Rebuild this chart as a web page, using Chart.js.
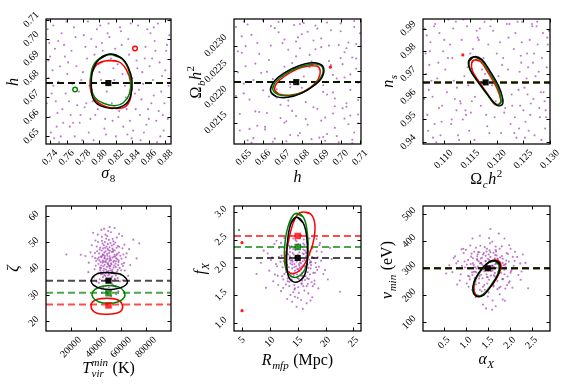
<!DOCTYPE html>
<html><head><meta charset="utf-8">
<script src="https://cdn.jsdelivr.net/npm/chart.js@4"></script>
<style>
html,body{margin:0;padding:0;background:#fff}
#wrap{position:relative;width:567px;height:385px;overflow:hidden;background:#fff}
canvas{position:absolute;left:0;top:0}
</style></head><body>
<div id="wrap">
<canvas id="c1" width="567" height="385"></canvas>
<canvas id="c2" width="567" height="385"></canvas>
<canvas id="c3" width="567" height="385"></canvas>
<canvas id="c4" width="567" height="385"></canvas>
<canvas id="c5" width="567" height="385"></canvas>
<canvas id="c6" width="567" height="385"></canvas>
</div>
<script>
// ---------------- DATA ----------------
// axis ranges
const p1XRange=[0.7351,0.8869], p1YRange=[0.6461,0.7103];
const p2XRange=[0.6450,0.7105], p2YRange=[0.021086,0.023518];
const p3XRange=[0.1061,0.13002], p3YRange=[0.9392,0.9942];
const p4XRange=[0,100000], p4YRange=[16.4,63.75];
const p5XRange=[3.56,26.36], p5YRange=[0.852,3.105];
const p6XRange=[0.02,2.92], p6YRange=[68.6,529.9];
// tick values
const p1XTicks=[0.74,0.76,0.78,0.80,0.82,0.84,0.86,0.88], p1YTicks=[0.65,0.66,0.67,0.68,0.69,0.70,0.71];
const p2XTicks=[0.65,0.66,0.67,0.68,0.69,0.70,0.71], p2YTicks=[0.0215,0.0220,0.0225,0.0230];
const p3XTicks=[0.110,0.115,0.120,0.125,0.130], p3YTicks=[0.94,0.95,0.96,0.97,0.98,0.99];
const p4XTicks=[20000,40000,60000,80000], p4YTicks=[20,30,40,50,60];
const p5XTicks=[5,10,15,20,25], p5YTicks=[1.0,1.5,2.0,2.5,3.0];
const p6XTicks=[0.5,1.0,1.5,2.0,2.5], p6YTicks=[100,200,300,400,500];

// samples (sigma8, h)
const p1Samples=[[0.741,0.652],[0.803,0.698],[0.866,0.671],[0.772,0.686],[0.829,0.655],[0.754,0.703],[0.881,0.694],[0.795,0.661],[0.847,0.707],[0.763,0.668],
[0.818,0.679],[0.738,0.689],[0.874,0.650],[0.786,0.709],[0.852,0.683],[0.749,0.662],[0.836,0.692],[0.779,0.648],[0.859,0.664],[0.812,0.701],
[0.744,0.676],[0.867,0.699],[0.791,0.674],[0.825,0.706],[0.758,0.691],[0.883,0.659],[0.806,0.654],[0.768,0.657],[0.843,0.672],[0.799,0.687],
[0.876,0.681],[0.751,0.647],[0.833,0.664],[0.783,0.696],[0.862,0.703],[0.739,0.698],[0.815,0.667],[0.857,0.656],[0.775,0.673],[0.845,0.689],
[0.761,0.682],[0.808,0.651],[0.871,0.708],[0.747,0.668],[0.827,0.697],[0.789,0.659],[0.853,0.677],[0.737,0.705],[0.879,0.667],[0.797,0.705],
[0.766,0.694],[0.839,0.649],[0.782,0.665],[0.822,0.687],[0.756,0.657],[0.864,0.690],[0.802,0.679],[0.743,0.684],[0.849,0.661],[0.885,0.702],
[0.771,0.701],[0.831,0.676],[0.753,0.650],[0.869,0.658],[0.794,0.692],[0.816,0.658],[0.746,0.695],[0.856,0.696],[0.778,0.679],[0.841,0.653],
[0.873,0.688],[0.759,0.672],[0.811,0.708],[0.787,0.652],[0.851,0.669],[0.740,0.660],[0.824,0.663],[0.865,0.679],[0.769,0.706],[0.835,0.700],
[0.792,0.668],[0.878,0.653],[0.750,0.678],[0.804,0.694],[0.858,0.705],[0.777,0.661],[0.820,0.650],[0.742,0.672],[0.846,0.685],[0.884,0.676],
[0.764,0.655],[0.800,0.683],[0.868,0.694],[0.781,0.702],[0.837,0.658],[0.757,0.697],[0.814,0.690],[0.872,0.663],[0.748,0.655],[0.826,0.704],
[0.793,0.648],[0.861,0.686],[0.773,0.666],[0.843,0.696],[0.736,0.667],[0.809,0.673],[0.880,0.684],[0.760,0.709],[0.832,0.670],[0.785,0.690],
[0.854,0.652],[0.752,0.686],[0.819,0.695],[0.870,0.647],[0.776,0.657],[0.838,0.708],[0.745,0.649],[0.798,0.664],[0.863,0.667],[0.767,0.677],
[0.828,0.682],[0.882,0.697],[0.790,0.700],[0.755,0.664],[0.848,0.674],[0.807,0.659],[0.740,0.691],[0.860,0.659],[0.780,0.683],[0.834,0.651],
[0.762,0.688],[0.875,0.673],[0.801,0.707],[0.844,0.664],[0.770,0.650],[0.817,0.685],[0.855,0.690],[0.738,0.680],[0.788,0.676],[0.866,0.706],
[0.823,0.660],[0.750,0.699],[0.877,0.661],[0.796,0.696],[0.840,0.680],[0.765,0.661],[0.810,0.703],[0.850,0.648],[0.784,0.667],[0.744,0.707]];
// samples (h, Omega_b h^2)
const p2Samples=[[0.648,0.02135],[0.671,0.02312],[0.703,0.02188],[0.659,0.02247],[0.689,0.02121],[0.652,0.02341],[0.708,0.02275],[0.677,0.02163],[0.695,0.02330],[0.663,0.02201],
[0.684,0.02258],[0.647,0.02289],[0.706,0.02117],[0.668,0.02346],[0.698,0.02236],[0.656,0.02172],[0.690,0.02297],[0.665,0.02113],[0.701,0.02178],[0.680,0.02322],
[0.650,0.02226],[0.704,0.02306],[0.674,0.02219],[0.687,0.02339],[0.658,0.02284],[0.709,0.02149],[0.679,0.02130],[0.661,0.02142],[0.693,0.02205],[0.675,0.02266],
[0.705,0.02244],[0.654,0.02111],[0.688,0.02177],[0.670,0.02305],[0.700,0.02328],[0.649,0.02318],[0.682,0.02190],[0.697,0.02140],[0.667,0.02215],[0.694,0.02270],
[0.662,0.02249],[0.678,0.02125],[0.707,0.02348],[0.653,0.02195],[0.686,0.02310],[0.672,0.02153],[0.699,0.02230],[0.646,0.02336],[0.709,0.02194],[0.676,0.02340],
[0.664,0.02300],[0.692,0.02115],[0.669,0.02185],[0.685,0.02269],[0.657,0.02144],[0.702,0.02287],[0.681,0.02240],[0.651,0.02260],[0.696,0.02168],[0.710,0.02324],
[0.666,0.02334],[0.691,0.02223],[0.655,0.02120],[0.704,0.02147],[0.673,0.02292],[0.683,0.02146],[0.651,0.02299],[0.699,0.02301],[0.670,0.02240],[0.693,0.02128],
[0.706,0.02277],[0.660,0.02213],[0.681,0.02344],[0.674,0.02126],[0.697,0.02197],[0.648,0.02167],[0.686,0.02180],[0.702,0.02238],[0.664,0.02338],[0.690,0.02314],
[0.673,0.02193],[0.707,0.02131],[0.655,0.02233],[0.679,0.02295],[0.700,0.02343],[0.669,0.02159],[0.685,0.02118],[0.650,0.02207],[0.695,0.02262],[0.709,0.02228],
[0.661,0.02137],[0.676,0.02256],[0.703,0.02295],[0.668,0.02326],[0.692,0.02160],[0.657,0.02305],[0.684,0.02282],[0.705,0.02164],[0.653,0.02138],[0.688,0.02333],
[0.672,0.02114],[0.701,0.02264],[0.667,0.02199],[0.694,0.02300],[0.646,0.02202],[0.680,0.02218],[0.708,0.02255],[0.660,0.02349],[0.691,0.02210],[0.677,0.02279],
[0.698,0.02124],[0.656,0.02265],[0.687,0.02293],[0.706,0.02110],[0.671,0.02150],[0.693,0.02345],[0.652,0.02116],[0.675,0.02173],[0.703,0.02181],[0.665,0.02235],
[0.689,0.02254],[0.708,0.02303],[0.678,0.02316],[0.658,0.02171],[0.696,0.02209],[0.682,0.02157],[0.649,0.02286],[0.702,0.02158],[0.671,0.02259],[0.691,0.02122],
[0.663,0.02272],[0.705,0.02214],[0.679,0.02342],[0.697,0.02182],[0.666,0.02119],[0.688,0.02261],[0.700,0.02276],[0.647,0.02248],[0.674,0.02225],[0.707,0.02336],
[0.690,0.02154],[0.654,0.02321],[0.709,0.02166],[0.677,0.02308],[0.696,0.02243],[0.662,0.02169],[0.683,0.02327],[0.699,0.02112],[0.673,0.02183],[0.650,0.02347]];
// samples (Omega_c h^2, n_s)
const p3Samples=[[0.1071,0.945],[0.1164,0.986],[0.1283,0.962],[0.1108,0.977],[0.1226,0.948],[0.1082,0.991],[0.1296,0.983],[0.1151,0.953],[0.1248,0.993],[0.1121,0.959],
[0.1203,0.969],[0.1066,0.979],[0.1271,0.943],[0.1137,0.994],[0.1259,0.973],[0.1091,0.955],[0.1232,0.981],[0.1129,0.941],[0.1264,0.957],[0.1193,0.989],
[0.1077,0.967],[0.1287,0.988],[0.1146,0.965],[0.1219,0.992],[0.1099,0.980],[0.1293,0.951],[0.1182,0.947],[0.1115,0.950],[0.1241,0.963],[0.1175,0.977],
[0.1279,0.971],[0.1086,0.940],[0.1229,0.956],[0.1134,0.985],[0.1267,0.991],[0.1068,0.987],[0.1198,0.958],[0.1254,0.949],[0.1125,0.964],[0.1245,0.978],
[0.1103,0.972],[0.1186,0.944],[0.1276,0.993],[0.1079,0.960],[0.1222,0.986],[0.1142,0.952],[0.1256,0.968],[0.1064,0.990],[0.1290,0.958],[0.1168,0.990],
[0.1112,0.983],[0.1237,0.942],[0.1132,0.957],[0.1212,0.977],[0.1096,0.949],[0.1270,0.979],[0.1178,0.970],[0.1073,0.974],[0.1250,0.954],[0.1298,0.989],
[0.1118,0.990],[0.1230,0.966],[0.1094,0.943],[0.1281,0.951],[0.1155,0.981],[0.1196,0.951],[0.1075,0.984],[0.1262,0.985],[0.1139,0.969],[0.1242,0.946],
[0.1285,0.977],[0.1106,0.962],[0.1189,0.994],[0.1148,0.945],[0.1258,0.961],[0.1069,0.952],[0.1216,0.955],[0.1273,0.969],[0.1123,0.993],[0.1235,0.988],
[0.1159,0.960],[0.1291,0.946],[0.1088,0.968],[0.1184,0.983],[0.1266,0.992],[0.1141,0.954],[0.1208,0.944],[0.1072,0.963],[0.1246,0.975],[0.1297,0.966],
[0.1114,0.948],[0.1172,0.972],[0.1277,0.983],[0.1144,0.991],[0.1234,0.951],[0.1101,0.985],[0.1200,0.979],[0.1280,0.955],[0.1083,0.948],[0.1224,0.992],
[0.1158,0.941],[0.1268,0.975],[0.1131,0.958],[0.1247,0.984],[0.1063,0.959],[0.1191,0.965],[0.1294,0.973],[0.1109,0.994],[0.1228,0.961],[0.1150,0.979],
[0.1260,0.945],[0.1090,0.975],[0.1206,0.984],[0.1284,0.941],[0.1136,0.950],[0.1239,0.993],[0.1080,0.942],[0.1170,0.956],[0.1269,0.959],[0.1119,0.967],
[0.1221,0.972],[0.1295,0.986],[0.1162,0.989],[0.1097,0.956],[0.1252,0.964],[0.1180,0.952],[0.1074,0.980],[0.1263,0.952],[0.1145,0.973],[0.1233,0.944],
[0.1116,0.977],[0.1288,0.962],[0.1177,0.993],[0.1244,0.956],[0.1127,0.943],[0.1210,0.974],[0.1257,0.979],[0.1067,0.970],[0.1157,0.966],[0.1275,0.991],
[0.1214,0.953],[0.1092,0.988],[0.1292,0.954],[0.1166,0.985],[0.1243,0.971],[0.1124,0.954],[0.1188,0.991],[0.1253,0.942],[0.1153,0.958],[0.1084,0.992]];
// samples (T_vir^min, zeta)
const p4Samples=[[50200,41.3],[46800,44.1],[53500,38.7],[44100,40.2],[57200,43.6],[49300,47.5],[51800,35.9],[42500,45.8],[55600,41.9],[48100,38.2],
[52700,46.3],[39800,41.1],[60100,39.4],[47400,42.8],[54200,49.2],[45600,36.8],[50900,44.7],[58300,46.1],[43300,39.5],[51200,40.1],
[49000,52.4],[55100,36.2],[41200,43.7],[53900,42.5],[46300,48.9],[62400,42.2],[48600,34.8],[44800,50.6],[56800,38.9],[50500,45.9],
[37200,44.6],[52100,43.2],[47900,39.7],[59400,44.9],[45100,42.3],[53300,51.3],[49700,37.4],[42900,47.3],[55900,40.6],[50800,48.1],
[46100,45.2],[57700,41.4],[43900,37.9],[51500,39.2],[48400,43.4],[54800,45.3],[40600,48.4],[52900,37.1],[47200,50.1],[61200,47.7],
[49500,42.1],[44400,44.4],[56200,43.9],[50100,38.4],[38900,39.8],[53700,47.1],[47700,46.6],[58900,40.3],[45900,40.9],[51900,53.8],
[48800,40.7],[55400,49.9],[42000,41.8],[52400,41.6],[46600,37.6],[63800,44.3],[50300,50.9],[44600,46.9],[54500,38.1],[49100,44.9],
[41600,50.1],[57000,45.6],[47000,41.5],[53100,44.2],[45300,49.5],[59800,37.8],[51100,46.8],[43600,42.6],[56500,47.9],[48300,36.3],
[50700,42.9],[35600,46.2],[54100,40.4],[46900,43.9],[52600,48.8],[44000,38.6],[58100,43.1],[49900,39.1],[42200,44.2],[55300,44.6],
[47600,52.9],[51400,41.0],[60700,41.8],[45700,47.7],[53000,39.6],[48900,45.6],[40100,42.9],[56000,42.8],[50000,47.0],[43100,40.4],
[52300,36.6],[46400,40.0],[57500,48.6],[49200,43.8],[54400,43.0],[41900,38.4],[51600,49.7],[45000,44.9],[61900,45.4],[48000,42.4],
[53600,46.4],[44700,52.1],[50600,37.8],[47300,47.9],[55800,37.4],[39300,44.0],[52000,42.0],[46000,39.2],[58600,48.3],[49600,41.7],
[43400,48.0],[54700,41.2],[48500,48.4],[51300,44.0],[45500,43.1],[57400,39.6],[50400,35.2],[42700,43.2],[53800,50.4],[47100,44.8],
[56400,45.1],[49400,49.4],[44200,41.2],[52800,39.0],[46700,46.1],[60400,43.8],[48700,38.9],[40900,46.6],[55000,46.9],[51000,43.5],
[47500,37.2],[53200,47.6],[45400,45.5],[58000,42.5],[50700,40.8],[43800,44.6],[54300,44.5],[48200,51.4],[52500,38.3],[46200,42.6],
[66500,47.4],[34200,42.3],[50900,55.8],[61400,35.6],[38100,36.9],[56700,51.8],[44300,54.7],[63000,39.3],[47800,33.4],[53400,33.9],
[69800,51.0],[41400,52.9],[58500,53.2],[36600,48.9],[64500,45.8],[51700,31.8],[45800,32.9],[55700,33.2],[42300,34.7],[59100,35.2],
[72500,43.9],[31500,44.8],[49800,54.3],[62700,49.1],[39600,50.7],[54900,55.4],[46500,55.1],[57900,31.4],[40400,35.1],[67400,41.4],
[49000,30.5],[52200,29.6],[44900,30.9],[56100,30.3],[48100,31.2],[27800,45.3],[74600,49.6],[33900,38.7],[65700,37.3],[37700,53.6],
[60900,52.4],[43000,36.0],[57300,36.5],[47500,35.6],[52700,34.4],[39100,45.9],[61600,41.0],[45200,38.0],[55300,35.8],[50300,33.0],
[16300,45.4]];
// samples (R_mfp, f_X)
const p5Samples=[[15.1,1.97],[13.8,2.12],[16.4,1.84],[12.9,1.95],[17.2,2.08],[14.6,2.31],[15.7,1.71],[12.1,2.21],[16.9,1.99],[14.2,1.82],
[15.9,2.25],[11.3,2.02],[18.1,1.90],[14.0,2.05],[16.2,2.40],[13.2,1.75],[15.4,2.16],[17.6,2.19],[12.6,1.88],[15.3,1.93],
[14.8,2.47],[16.6,1.66],[11.9,2.10],[16.0,2.03],[13.6,2.34],[18.8,2.01],[14.5,1.62],[13.0,2.41],[17.0,1.79],[15.2,2.21],
[10.4,2.18],[15.6,2.07],[14.3,1.86],[17.9,2.17],[13.4,2.00],[16.1,2.50],[14.9,1.73],[12.7,2.28],[16.8,1.91],[15.0,2.33],
[13.7,2.17],[17.3,1.98],[12.4,1.78],[15.5,1.85],[14.4,2.06],[16.5,2.20],[11.7,2.35],[15.8,1.76],[13.9,2.38],[18.4,2.29],
[14.7,2.02],[12.8,2.12],[17.4,2.09],[15.0,1.81],[10.9,1.87],[16.3,2.30],[14.1,2.26],[17.8,1.90],[13.1,1.93],[15.6,2.58],
[14.5,1.94],[16.7,2.45],[12.3,2.00],[15.7,2.01],[13.5,1.74],[19.2,2.12],[15.1,2.42],[13.3,2.23],[16.3,1.77],[14.6,2.17],
[12.0,2.44],[17.1,2.22],[14.0,1.98],[15.9,2.11],[13.4,2.39],[18.0,1.76],[15.3,2.27],[12.9,2.03],[17.0,2.29],[14.4,1.68],
[15.2,2.06],[9.6,2.25],[16.2,1.92],[14.0,2.13],[15.8,2.37],[13.2,1.80],[17.4,2.04],[14.9,1.87],[12.5,2.11],[16.5,2.12],
[14.2,2.52],[15.4,1.99],[18.3,2.00],[13.6,2.28],[15.9,1.83],[14.6,2.19],[11.1,2.06],[16.8,2.05],[15.0,2.23],[12.9,1.91],
[15.7,1.70],[13.8,1.89],[17.5,2.36],[14.8,2.10],[16.3,2.02],[12.2,1.84],[15.5,2.39],[13.5,2.14],[18.6,2.18],[14.4,2.00],
[16.1,2.24],[13.3,2.48],[15.2,1.79],[14.2,2.33],[16.7,1.80],[10.2,2.13],[15.6,1.96],[13.8,1.83],[17.6,2.34],[14.9,1.97],
[12.6,2.35],[16.4,2.01],[14.5,2.36],[15.4,2.09],[13.7,2.07],[17.2,1.87],[15.1,1.64],[12.8,2.09],[16.0,2.43],[14.1,2.10],
[17.0,2.14],[14.8,2.40],[13.1,2.04],[15.8,1.90],[14.3,2.23],[18.2,2.08],[14.9,1.81],[11.6,2.19],[16.5,2.26],[15.3,2.03],
[13.9,1.78],[16.0,2.32],[13.6,2.20],[17.3,2.11],[15.1,2.14],[13.1,2.26],[16.2,2.13],[14.6,2.49],[15.8,1.85],[13.4,1.92],
[19.9,1.95],[8.4,2.08],[15.0,1.45],[18.7,1.62],[10.6,1.75],[17.1,2.52],[12.6,2.53],[19.3,2.28],[14.2,1.55],[16.2,1.58],
[21.1,2.15],[11.2,2.48],[17.7,1.66],[9.9,1.94],[19.6,1.88],[15.6,1.41],[13.7,1.50],[16.9,1.53],[12.4,1.63],[18.0,1.70],
[22.6,1.56],[8.9,2.30],[15.3,2.57],[18.9,2.40],[11.5,1.68],[16.6,1.35],[14.0,1.38],[17.6,1.46],[12.0,1.57],[20.4,1.78],
[14.8,1.29],[15.9,1.25],[13.1,1.43],[17.3,1.40],[14.5,1.47],[7.6,1.88],[20.8,2.35],[9.3,1.63],[19.0,2.44],[10.8,2.42],
[18.4,2.51],[12.9,1.69],[17.5,1.73],[14.4,1.60],[16.0,1.66],[11.4,1.85],[18.5,1.95],[13.5,1.66],[16.8,1.70],[15.2,1.54]];
// samples (alpha_X, nu_min)
const p6Samples=[[1.51,292],[1.32,318],[1.71,268],[1.18,287],[1.86,311],[1.45,346],[1.62,241],[1.05,331],[1.79,298],[1.38,263],
[1.66,337],[0.98,303],[2.02,284],[1.41,307],[1.69,362],[1.22,251],[1.55,324],[1.92,329],[1.15,275],[1.58,290],
[1.48,372],[1.76,228],[1.02,314],[1.64,305],[1.27,352],[2.15,300],[1.43,221],[1.19,361],[1.83,260],[1.53,331],
[0.82,326],[1.61,310],[1.35,276],[1.98,325],[1.24,299],[1.68,380],[1.49,244],[1.12,343],[1.80,284],[1.52,351],
[1.29,326],[1.88,295],[1.09,259],[1.57,273],[1.40,308],[1.73,333],[0.95,356],[1.63,248],[1.31,359],[2.07,342],
[1.44,301],[1.16,318],[1.89,313],[1.50,267],[0.88,278],[1.70,347],[1.37,339],[1.95,270],[1.21,287],[1.60,398],
[1.42,289],[1.77,372],[1.07,299],[1.65,301],[1.30,246],[2.24,318],[1.54,366],[1.25,334],[1.72,253],[1.45,325],
[1.00,368],[1.84,335],[1.36,293],[1.67,315],[1.28,360],[2.00,252],[1.56,342],[1.17,303],[1.82,345],[1.39,232],
[1.59,307],[0.72,338],[1.74,287],[1.34,319],[1.63,357],[1.20,264],[1.90,304],[1.47,278],[1.11,316],[1.76,317],
[1.33,383],[1.57,297],[2.05,296],[1.26,344],[1.66,270],[1.45,328],[0.91,309],[1.81,306],[1.50,335],[1.14,285],
[1.63,236],[1.29,280],[1.93,356],[1.48,313],[1.70,302],[1.08,270],[1.56,359],[1.35,320],[2.11,327],[1.40,298],
[1.72,336],[1.23,376],[1.53,258],[1.39,351],[1.85,260],[0.78,318],[1.61,292],[1.31,271],[1.96,353],[1.49,294],
[1.13,354],[1.75,300],[1.41,356],[1.60,310],[1.27,306],[1.88,278],[1.52,211],[1.18,312],[1.68,367],[1.37,314],
[1.84,320],[1.47,362],[1.21,304],[1.66,283],[1.34,336],[2.09,309],[1.48,268],[0.97,325],[1.78,340],[1.55,303],
[1.30,262],[1.67,349],[1.26,330],[1.91,317],[1.53,322],[1.16,337],[1.69,318],[1.43,378],[1.64,274],[1.24,285],
[2.27,288],[0.62,311],[1.50,196],[2.06,228],[0.86,255],[1.82,381],[1.10,384],[2.17,342],[1.36,215],[1.72,223],
[2.36,320],[0.94,372],[1.94,238],[0.69,286],[2.20,275],[1.61,181],[1.28,199],[1.77,204],[1.06,232],[1.98,247],
[2.42,226],[0.75,344],[1.55,392],[2.12,361],[1.02,244],[1.68,160],[1.39,166],[1.84,185],[1.14,221],[2.25,258],
[1.46,152],[1.60,147],[1.22,193],[1.89,180],[1.42,203],[0.55,281],[2.30,351],[0.80,240],[2.02,372],[0.90,370],
[1.99,385],[1.23,240],[1.90,225],[1.42,238],[1.63,233],[1.05,272],[2.03,290],[1.32,221],[1.79,232],[1.53,412],
[1.56,445],[1.32,420],[1.75,428],[1.15,410],[1.88,410]];

// 68% contours: black, green, red
const p1Black=[[0.8128,0.6923],[0.8270,0.6902],[0.8351,0.6854],[0.8396,0.6786],[0.8379,0.6709],[0.8311,0.6663],[0.8169,0.6644],[0.8007,0.6658],[0.7926,0.6692],[0.7902,0.6760],[0.7918,0.6837],[0.7999,0.6897]];
const p1Green=[[0.8108,0.6920],[0.8250,0.6906],[0.8339,0.6858],[0.8379,0.6786],[0.8363,0.6718],[0.8290,0.6673],[0.8189,0.6658],[0.8048,0.6670],[0.7938,0.6704],[0.7894,0.6769],[0.7906,0.6841],[0.7975,0.6892]];
const p1Red=[[0.8088,0.6889],[0.8230,0.6884],[0.8323,0.6846],[0.8379,0.6777],[0.8379,0.6700],[0.8311,0.6652],[0.8189,0.6644],[0.8048,0.6658],[0.7926,0.6700],[0.7886,0.6760],[0.7906,0.6820],[0.7975,0.6872]];
const p2Black=[[0.6639,0.022111],[0.6668,0.022007],[0.6728,0.021994],[0.6797,0.022072],[0.6862,0.022221],[0.6904,0.022383],[0.6911,0.022578],[0.6875,0.022662],[0.6814,0.022643],[0.6746,0.022545],[0.6677,0.022383],[0.6646,0.022241]];
const p2Green=[[0.6651,0.022137],[0.6677,0.022046],[0.6737,0.022027],[0.6806,0.022091],[0.6869,0.022254],[0.6905,0.022435],[0.6904,0.022591],[0.6869,0.022643],[0.6811,0.022610],[0.6746,0.022513],[0.6686,0.022370],[0.6656,0.022241]];
const p2Red=[[0.6660,0.022137],[0.6680,0.022059],[0.6746,0.022040],[0.6811,0.022111],[0.6869,0.022267],[0.6893,0.022435],[0.6887,0.022578],[0.6852,0.022610],[0.6801,0.022578],[0.6742,0.022481],[0.6686,0.022331],[0.6663,0.022221]];
const p3Black=[[0.11575,0.97763],[0.11719,0.97631],[0.11875,0.97117],[0.12031,0.96486],[0.12113,0.95899],[0.12094,0.95635],[0.12000,0.95635],[0.11844,0.96046],[0.11656,0.96633],[0.11500,0.97176],[0.11469,0.97558]];
const p3Green=[[0.11563,0.97734],[0.11688,0.97646],[0.11863,0.97073],[0.12019,0.96413],[0.12081,0.95855],[0.12050,0.95679],[0.11950,0.95708],[0.11813,0.96119],[0.11638,0.96662],[0.11500,0.97176],[0.11481,0.97558]];
const p3Red=[[0.11575,0.97617],[0.11688,0.97558],[0.11844,0.97029],[0.12000,0.96383],[0.12075,0.95855],[0.12038,0.95649],[0.11950,0.95679],[0.11825,0.96119],[0.11675,0.96633],[0.11544,0.97117],[0.11525,0.97470]];
const p4Black=[[50500,38.5],[59300,38.0],[64100,36.3],[65100,34.7],[61900,33.2],[54000,32.2],[44700,32.4],[38000,33.8],[36200,35.7],[38800,37.5],[43300,38.4]];
const p4Green=[[50000,33.6],[58000,33.1],[62500,31.3],[62500,29.0],[58000,27.5],[50000,26.9],[42000,27.5],[37500,29.1],[37500,31.3],[42000,32.9]];
const p4Red=[[48700,28.8],[56100,28.4],[60600,26.9],[60600,24.3],[56100,23.1],[48700,22.7],[40700,23.1],[36700,24.6],[36700,27.1],[41200,28.4]];
const p5Black=[[14.75,2.901],[15.95,2.805],[16.61,2.553],[16.73,2.192],[16.37,1.892],[15.35,1.754],[14.16,1.742],[13.26,1.862],[13.02,2.192],[13.26,2.553],[13.86,2.805]];
const p5Green=[[14.45,2.961],[15.95,2.913],[16.73,2.613],[16.85,2.252],[16.37,1.982],[15.05,1.832],[13.74,1.844],[12.78,2.012],[12.66,2.372],[13.26,2.733]];
const p5Red=[[15.95,2.997],[17.33,2.961],[18.05,2.793],[17.93,2.523],[17.15,2.252],[15.95,2.012],[14.45,1.892],[13.26,1.922],[12.78,2.102],[13.26,2.432],[14.16,2.793],[15.05,2.961]];
const p6Black=[[1.672,328],[1.775,314],[1.745,281],[1.580,236],[1.400,201],[1.260,196],[1.165,212],[1.185,250],[1.350,296],[1.530,324]];
const p6Green=[[1.657,326],[1.755,311],[1.728,279],[1.565,236],[1.385,203],[1.252,198],[1.172,214],[1.200,252],[1.360,295],[1.518,321]];
const p6Red=[[1.700,330],[1.795,317],[1.765,284],[1.596,238],[1.405,204],[1.275,199],[1.188,216],[1.210,253],[1.372,298],[1.548,325]];

// true values (red, green, black)
const p1Truth=[0.6774,0.6774,0.6774];
const p2Truth=[0.02229,0.02229,0.02229];
const p3Truth=[0.9663,0.9663,0.9663];
const p4Truth=[26.4,30.9,35.45];
const p5Truth=[2.565,2.366,2.168];
const p6Truth=[300,300,300];
// best-fit squares (red, green, black)
const p1Best=[null,null,[0.8108,0.6774]];
const p2Best=[null,null,[0.6771,0.02229]];
const p3Best=[null,null,[0.1179,0.9663]];
const p4Best=[[50000,26.1],[50000,30.7],[50000,35.45]];
const p5Best=[[15,2.565],[15,2.366],[15,2.168]];
const p6Best=[null,null,[1.5,300]];
// other markers
const p1RedOpen=[[0.8432,0.6952]], p1GreenOpen=[[0.7704,0.6741]];
const p2RedDots=[[0.6947,0.02258]];
const p3RedDots=[[0.1136,0.9784]];
const p5RedDots=[[5,2.444],[5,1.219]], p5GreenDots=[[4.46,2.673]];

// ---------------- RENDER ----------------
const COL={red:[255,0,0],green:[0,128,0],black:[0,0,0]};
const NAMES=['red','green','black'];
function rgba(n,a){const c=COL[n];return `rgba(${c[0]},${c[1]},${c[2]},${a})`;}
function pts(a){return a.map(p=>({x:p[0],y:p[1]}));}
// closed loop: wrap neighbours so the spline is smooth across the seam
function closed(a){const n=a.length;return pts([a[n-1]].concat(a,[a[0],a[1]]));}
const SERIF='"Liberation Serif","DejaVu Serif",serif';
function F(it,sz){return (it?'italic ':'')+sz+'px '+SERIF;}

function drawRich(ctx,segs,x,y,ang){
  const S=16,s=11;
  const items=segs.map(g=>{
    if(g.lo!==undefined){ctx.font=F(g.it,s);return {g,w:Math.max(ctx.measureText(g.lo).width,ctx.measureText(g.hi).width)+1};}
    const sz=g.k?s:S;ctx.font=F(g.it,sz);
    return {g,w:ctx.measureText(g.t).width+(g.k?1:0)};
  });
  const total=items.reduce((a,b)=>a+b.w,0);
  ctx.save();ctx.translate(x,y);ctx.rotate(ang);
  ctx.textAlign='left';ctx.textBaseline='alphabetic';ctx.fillStyle='#000';
  let cx=-total/2;
  for(const {g,w} of items){
    if(g.lo!==undefined){ctx.font=F(g.it,s);ctx.fillText(g.lo,cx+0.5,4);ctx.fillText(g.hi,cx+0.5,-7);}
    else if(g.k==='sub'){ctx.font=F(g.it,s);ctx.fillText(g.t,cx+0.5,4);}
    else if(g.k==='sup'){ctx.font=F(g.it,s);ctx.fillText(g.t,cx+0.5,-7);}
    else{ctx.font=F(g.it,S);ctx.fillText(g.t,cx,0);}
    cx+=w;
  }
  ctx.restore();
}

function decoPlugin(P){
  return {id:'deco'+P.id,afterDatasetsDraw(chart){
    const {ctx,chartArea:a,scales:{x,y}}=chart;
    ctx.save();
    ctx.strokeStyle='#000';ctx.lineWidth=1;
    const TL=3.5;
    ctx.beginPath();
    for(const v of P.xTicks){const px=Math.round(x.getPixelForValue(v))+0.5;
      ctx.moveTo(px,a.bottom);ctx.lineTo(px,a.bottom-TL);ctx.moveTo(px,a.top);ctx.lineTo(px,a.top+TL);}
    for(const v of P.yTicks){const py=Math.round(y.getPixelForValue(v))+0.5;
      ctx.moveTo(a.left,py);ctx.lineTo(a.left+TL,py);ctx.moveTo(a.right,py);ctx.lineTo(a.right-TL,py);}
    ctx.stroke();
    ctx.lineWidth=1.25;
    ctx.strokeRect(a.left,a.top,a.right-a.left,a.bottom-a.top);
    ctx.fillStyle='#000';ctx.font='10px '+SERIF;ctx.textAlign='center';ctx.textBaseline='middle';
    for(const v of P.xTicks){const lab=v.toFixed(P.xDig);const w=ctx.measureText(lab).width;const sz=0.7071*(w+7);
      ctx.save();ctx.translate(x.getPixelForValue(v),a.bottom+5+sz/2);ctx.rotate(-Math.PI/4);ctx.fillText(lab,0,0);ctx.restore();}
    for(const v of P.yTicks){const lab=v.toFixed(P.yDig);const w=ctx.measureText(lab).width;const sz=0.7071*(w+7);
      ctx.save();ctx.translate(a.left-6-sz/2,y.getPixelForValue(v));ctx.rotate(-Math.PI/4);ctx.fillText(lab,0,0);ctx.restore();}
    drawRich(ctx,P.xTitle,P.xTitlePos[0],P.xTitlePos[1],0);
    drawRich(ctx,P.yTitle,P.yTitlePos[0],P.yTitlePos[1],-Math.PI/2);
    ctx.restore();
  }};
}

function makePanel(P){
  const ds=[];
  ds.push({data:pts(P.samples),showLine:false,pointRadius:1.05,pointBorderWidth:0,pointBackgroundColor:'rgba(150,40,170,0.62)',order:20});
  P.truth.forEach((v,i)=>{
    const n=NAMES[i];
    ds.push({data:[{x:P.xr[0],y:v},{x:P.xr[1],y:v}],showLine:true,borderColor:rgba(n,P.dashAlpha),borderWidth:2,borderDash:[7,4],pointRadius:0,tension:0,order:13-i});
  });
  P.contours.forEach((c,i)=>{
    const n=NAMES[i];
    ds.push({data:closed(c),showLine:true,borderColor:rgba(n,1),borderWidth:1.5,tension:0.4,pointRadius:0,fill:false,order:8-i});
  });
  P.best.forEach((b,i)=>{
    if(!b)return;const n=NAMES[i];
    ds.push({data:pts([b]),showLine:false,pointStyle:'rect',pointRadius:(n==='black'?4.3:4.6),pointBorderWidth:0,pointBackgroundColor:rgba(n,n==='black'?0.95:0.8),order:1});
  });
  (P.extras||[]).forEach(e=>ds.push(Object.assign({showLine:false,order:2},e)));
  new Chart(document.getElementById(P.id),{
    type:'scatter',
    data:{datasets:ds},
    options:{responsive:false,animation:false,events:[],
      layout:{padding:{left:P.box[0],top:P.box[1],right:567-P.box[2],bottom:385-P.box[3]}},
      scales:{x:{type:'linear',display:false,min:P.xr[0],max:P.xr[1]},y:{type:'linear',display:false,min:P.yr[0],max:P.yr[1]}},
      plugins:{legend:{display:false},tooltip:{enabled:false}}},
    plugins:[decoPlugin(P)]
  });
}

const openMark=(arr,n)=>({data:pts(arr),pointRadius:2.3,pointBorderWidth:1.4,pointBorderColor:rgba(n,1),pointBackgroundColor:'rgba(255,255,255,0)'});
const dotMark=(arr,n,r)=>({data:pts(arr),pointRadius:r,pointBorderWidth:0,pointBackgroundColor:rgba(n,0.9)});

makePanel({id:'c1',box:[46,19,171,144],xr:p1XRange,yr:p1YRange,samples:p1Samples,contours:[p1Red,p1Green,p1Black],truth:p1Truth,best:p1Best,dashAlpha:0.8,
  xTicks:p1XTicks,yTicks:p1YTicks,xDig:2,yDig:2,
  xTitle:[{t:'σ',it:1},{t:'8',k:'sub'}],xTitlePos:[108.5,178],
  yTitle:[{t:'h',it:1}],yTitlePos:[17.5,82],
  extras:[openMark(p1RedOpen,'red'),openMark(p1GreenOpen,'green')]});
makePanel({id:'c2',box:[234,19,361,144],xr:p2XRange,yr:p2YRange,samples:p2Samples,contours:[p2Red,p2Green,p2Black],truth:p2Truth,best:p2Best,dashAlpha:0.8,
  xTicks:p2XTicks,yTicks:p2YTicks,xDig:2,yDig:4,
  xTitle:[{t:'h',it:1}],xTitlePos:[297.5,182],
  yTitle:[{t:'Ω'},{t:'b',k:'sub',it:1},{t:'h',it:1},{t:'2',k:'sup'}],yTitlePos:[201,82],
  extras:[dotMark(p2RedDots,'red',1.6)]});
makePanel({id:'c3',box:[423,19,550,144],xr:p3XRange,yr:p3YRange,samples:p3Samples,contours:[p3Red,p3Green,p3Black],truth:p3Truth,best:p3Best,dashAlpha:0.8,
  xTicks:p3XTicks,yTicks:p3YTicks,xDig:3,yDig:2,
  xTitle:[{t:'Ω'},{t:'c',k:'sub',it:1},{t:'h',it:1},{t:'2',k:'sup'}],xTitlePos:[486.5,184],
  yTitle:[{t:'n',it:1},{t:'s',k:'sub',it:1}],yTitlePos:[392.5,81],
  extras:[dotMark(p3RedDots,'red',1.6)]});
makePanel({id:'c4',box:[46,206,171,331],xr:p4XRange,yr:p4YRange,samples:p4Samples,contours:[p4Red,p4Green,p4Black],truth:p4Truth,best:p4Best,dashAlpha:0.7,
  xTicks:p4XTicks,yTicks:p4YTicks,xDig:0,yDig:0,
  xTitle:[{t:'T',it:1},{lo:'vir',hi:'min',it:1},{t:' (K)'}],xTitlePos:[108.5,373],
  yTitle:[{t:'ζ',it:1}],yTitlePos:[17.5,268.5]});
makePanel({id:'c5',box:[234,206,361,331],xr:p5XRange,yr:p5YRange,samples:p5Samples,contours:[p5Red,p5Green,p5Black],truth:p5Truth,best:p5Best,dashAlpha:0.7,
  xTicks:p5XTicks,yTicks:p5YTicks,xDig:0,yDig:1,
  xTitle:[{t:'R',it:1},{t:'mfp',k:'sub',it:1},{t:' (Mpc)'}],xTitlePos:[297.5,365],
  yTitle:[{t:'f',it:1},{t:'X',k:'sub',it:1}],yTitlePos:[205,268.5],
  extras:[dotMark(p5RedDots,'red',1.6),dotMark(p5GreenDots,'green',1)]});
makePanel({id:'c6',box:[423,206,550,331],xr:p6XRange,yr:p6YRange,samples:p6Samples,contours:[p6Red,p6Green,p6Black],truth:p6Truth,best:p6Best,dashAlpha:0.8,
  xTicks:p6XTicks,yTicks:p6YTicks,xDig:1,yDig:0,
  xTitle:[{t:'α',it:1},{t:'X',k:'sub',it:1}],xTitlePos:[486.5,364],
  yTitle:[{t:'ν',it:1},{t:'min',k:'sub',it:1},{t:' (eV)'}],yTitlePos:[391.5,270]});
</script>
</body></html>
